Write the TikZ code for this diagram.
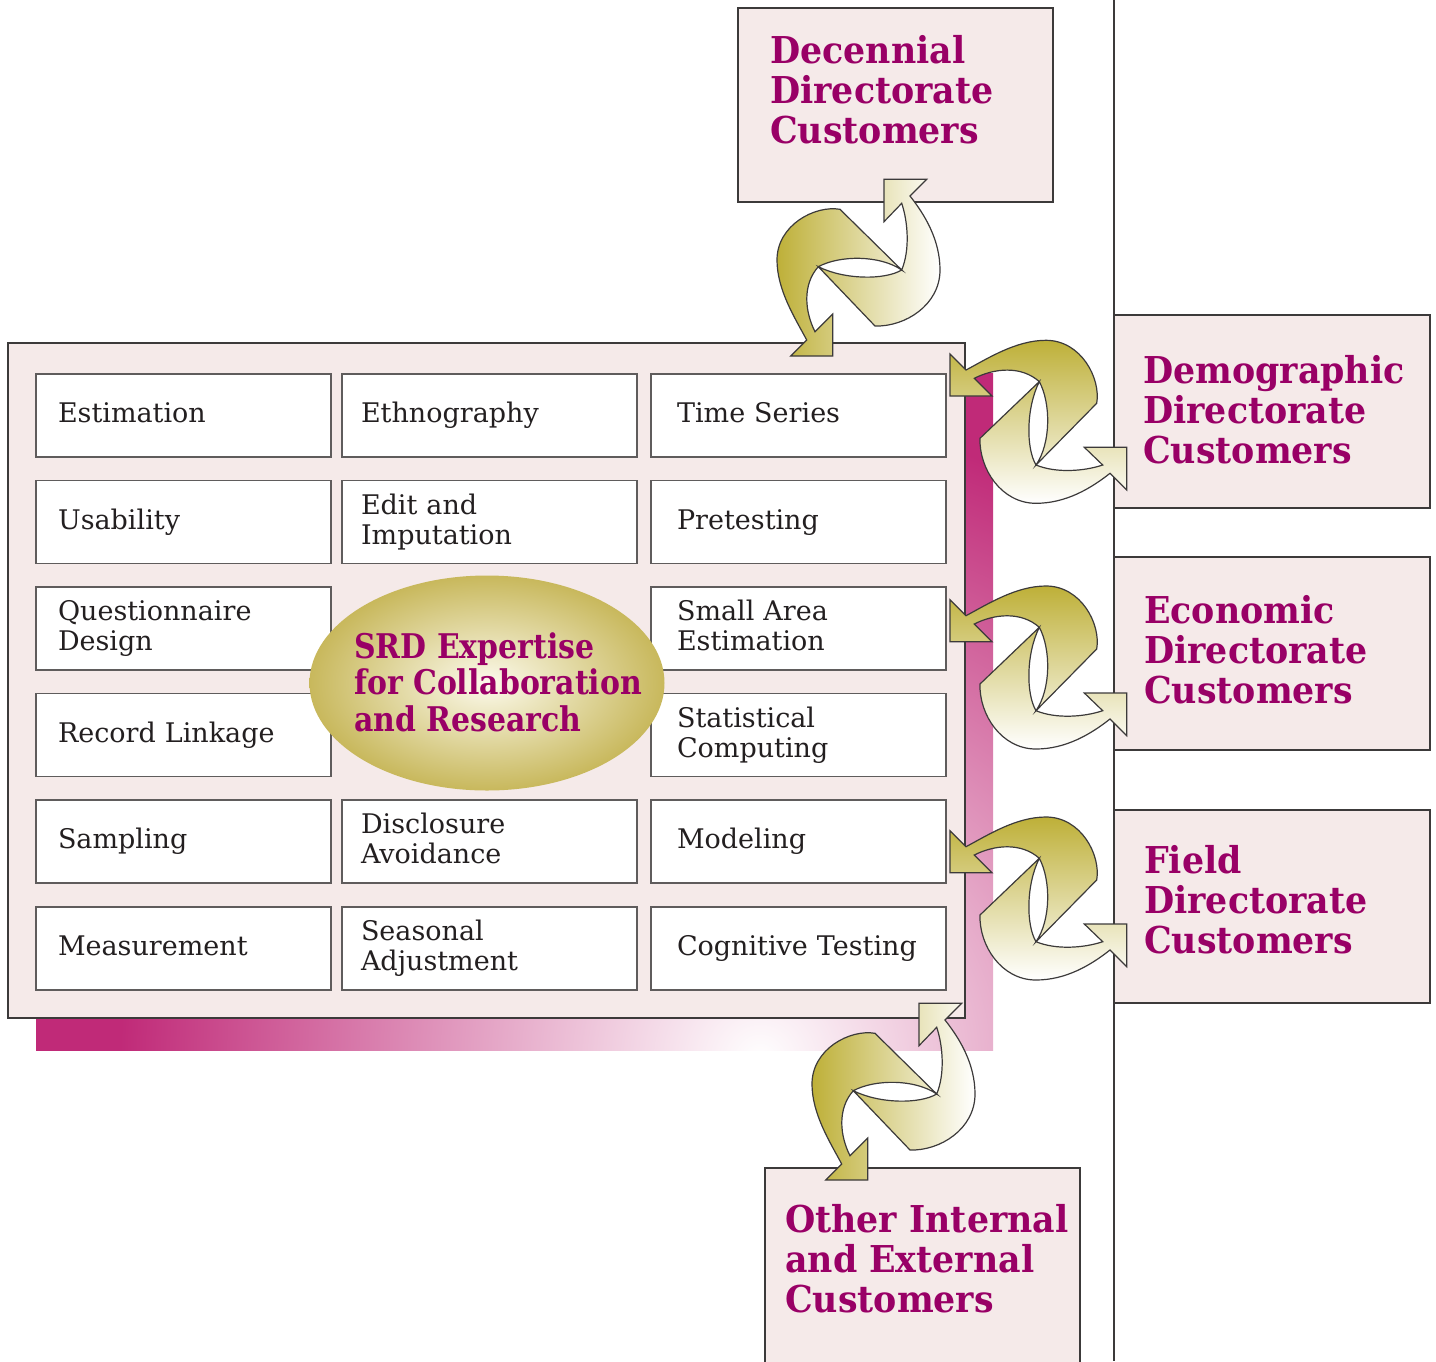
\documentclass[tikz,border=0pt]{standalone}
\usepackage{fontspec}
\setmainfont{DejaVu Serif}
\newfontfamily\headfont{DejaVu Serif Bold}[FakeStretch=0.94]
\newfontfamily\hubfont{DejaVu Serif Bold}[FakeStretch=0.88]
\usetikzlibrary{shapes.geometric}

\definecolor{custmag}{RGB}{153,0,102}
\definecolor{boxpink}{RGB}{245,234,233}
\definecolor{edgegray}{RGB}{60,58,58}
\definecolor{cellgray}{RGB}{95,92,92}
\definecolor{inkgray}{RGB}{35,31,32}
\definecolor{arrowolive}{RGB}{190,176,56}
\definecolor{hubolive}{RGB}{200,184,92}
\definecolor{hubcenter}{RGB}{252,250,236}
\definecolor{shadowmag}{RGB}{192,42,120}

\pgfdeclareradialshading{shadowglow}{\pgfpointorigin}{%
  color(0bp)=(white); color(16bp)=(shadowmag); color(50bp)=(shadowmag)}

\tikzset{
    panelbox/.style={
        rectangle, draw=edgegray, line width=1.5pt, fill=boxpink,
        inner sep=0pt
    },
    custbox/.style={
        rectangle, draw=edgegray, line width=1.5pt, fill=boxpink,
        minimum width=315pt, minimum height=194pt, inner sep=0pt
    },
    custtext/.style={
        anchor=north west, inner sep=0pt, align=left, text=custmag,
        font=\headfont\fontsize{37}{40}\selectfont
    },
    cell/.style={
        rectangle, draw=cellgray, line width=1.2pt, fill=white,
        minimum width=295pt, minimum height=83pt, inner ysep=0pt,
        align=left, text=inkgray, font=\fontsize{27}{30}\selectfont,
        execute at begin node={\rule{0pt}{23pt}},
        execute at end node={\rule[-9pt]{0pt}{9pt}}
    },
    colA/.style={cell, inner xsep=22pt, text width=251pt},
    colB/.style={cell, inner xsep=19pt, text width=257pt},
    colC/.style={cell, inner xsep=26pt, text width=243pt},
    hub/.style={
        ellipse, minimum width=355pt, minimum height=215pt, inner sep=0pt,
        inner color=hubcenter, outer color=hubolive
    },
    hubtext/.style={
        anchor=north west, inner sep=0pt, align=left, text=custmag,
        font=\hubfont\fontsize{34}{36.5}\selectfont
    },
    divider/.style={draw=edgegray, line width=2pt},
    arrowbody/.style={draw=edgegray, line width=1.2pt},
    pics/swaparrows/.style={code={
        \shade[arrowbody, #1]
          % arrow to the upper right
          (-41.7,-1.3) -- (15,58)
          .. controls (45,59) and (80,37) .. (80,2)
          .. controls (80,-28) and (65,-53) .. (50,-72)
          -- (66.7,-88.7) -- (24,-88.7) -- (24,-46.3) -- (41.7,-64.7)
          .. controls (48,-46) and (50,-18) .. (41.7,2)
          .. controls (25,12) and (-15,12) .. (-41.7,-1.3) -- cycle
          % arrow to the lower left
          (41.7,2) -- (-20,-58.7)
          .. controls (-45,-63) and (-83,-43) .. (-83,-8)
          .. controls (-83,22) and (-65,50) .. (-53.3,72)
          -- (-69.3,88) -- (-27.3,88) -- (-27.3,46) -- (-45,63.7)
          .. controls (-55,44) and (-58,17) .. (-41.7,-1.3)
          .. controls (-20,-13) and (20,-13) .. (41.7,2) -- cycle;
    }}
}

\begin{document}
\begin{tikzpicture}[x=1pt, y=-1pt]
\useasboundingbox (0,0) rectangle (1436,1361);

% Divider line
\coordinate (divtop) at (1114,0);
\coordinate (divbot) at (1114,1361);
\draw[divider] (divtop) -- (divbot);

% Customer boxes
\node[custbox] (dec) at (895.5,105) {};
\node[custtext] (dectext) at (770,35.3) {Decennial\\Directorate\\Customers};

\node[custbox, minimum width=316pt, minimum height=193pt] (dem) at (1272,411.5) {};
\node[custtext] (demtext) at (1143,354.7) {Demographic\\Directorate\\Customers};

\node[custbox, minimum width=316pt, minimum height=193pt] (eco) at (1272,653.5) {};
\node[custtext] (ecotext) at (1144,595) {Economic\\Directorate\\Customers};

\node[custbox, minimum width=316pt, minimum height=193pt] (fld) at (1272,906.5) {};
\node[custtext] (fldtext) at (1144,845) {Field\\Directorate\\Customers};

\node[custbox, minimum height=230pt] (oth) at (922.5,1283) {};
\node[custtext] (othtext) at (785,1203.7) {Other Internal\\and External\\Customers};

% Shadow behind the panel
\begin{scope}
\clip (36,373) rectangle (993,1050);
\shade[shading=shadowglow] (760,1060) circle [radius=1000];
\end{scope}

% Expertise panel
\node[panelbox, minimum width=957pt, minimum height=675pt] (panel) at (486.5,680.5) {};

\node[colA] (est) at (183.5,415.5) {Estimation};
\node[colB] (eth) at (489.5,415.5) {Ethnography};
\node[colC] (tser) at (798.5,415.5) {Time Series};

\node[colA] (usab) at (183.5,522) {Usability};
\node[colB] (edit) at (489.5,522) {Edit and\\Imputation};
\node[colC] (pret) at (798.5,522) {Pretesting};

\node[colA] (qdes) at (183.5,628.5) {Questionnaire\\Design};
\node[colC] (sae) at (798.5,628.5) {Small Area\\Estimation};

\node[colA] (rlink) at (183.5,735) {Record Linkage};
\node[colC] (stcomp) at (798.5,735) {Statistical\\Computing};

\node[colA] (samp) at (183.5,841.5) {Sampling};
\node[colB] (disc) at (489.5,841.5) {Disclosure\\Avoidance};
\node[colC] (model) at (798.5,841.5) {Modeling};

\node[colA] (meas) at (183.5,948.5) {Measurement};
\node[colB] (seas) at (489.5,948.5) {Seasonal\\Adjustment};
\node[colC] (cogn) at (798.5,948.5) {Cognitive Testing};

% Center ellipse
\node[hub] (srd) at (487,683) {};
\node[hubtext] (srdtext) at (354,632) {SRD Expertise\\for Collaboration\\and Research};

% Exchange arrows
\pic at (860,268) {swaparrows={left color=arrowolive, right color=white}};
\pic at (895,1092) {swaparrows={left color=arrowolive, right color=white}};
\pic[rotate=-90] at (1038,423.3) {swaparrows={top color=arrowolive, bottom color=white}};
\pic[rotate=-90] at (1038,669) {swaparrows={top color=arrowolive, bottom color=white}};
\pic[rotate=-90] at (1038,900) {swaparrows={top color=arrowolive, bottom color=white}};

\end{tikzpicture}
\end{document}
